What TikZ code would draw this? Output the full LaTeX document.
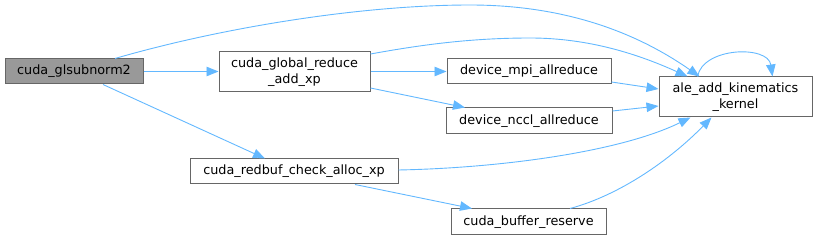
\documentclass[tikz,border=0pt]{standalone}
\usepackage{fontspec}
\setmainfont{DejaVu Sans}
\usetikzlibrary{calc,arrows.meta}
\definecolor{edgeblue}{HTML}{63B8FF}
\definecolor{boxgray}{HTML}{666666}
\definecolor{mainfill}{HTML}{999999}
\tikzset{
  fn/.style={draw=boxgray, line width=1pt, fill=white, inner sep=0pt, align=center,
    font=\fontsize{12.8}{16}\selectfont, text=black},
  mainfn/.style={fn, fill=mainfill},
  call/.style={draw=edgeblue, line width=0.9pt, -{Triangle[length=12pt,width=9.5pt]}},
}
\begin{document}
\begin{tikzpicture}[x=1pt,y=-1pt]
\useasboundingbox (0,0) rectangle (817,240);
\node[mainfn, minimum width=138pt, minimum height=25pt] (n0) at (74,71.5) {cuda\_glsubnorm2};
\node[fn, minimum width=151pt, minimum height=40pt] (n1) at (294.5,72) {cuda\_global\_reduce\\\_add\_xp};
\node[fn, minimum width=208pt, minimum height=25pt] (n2) at (294,171.5) {cuda\_redbuf\_check\_alloc\_xp};
\node[fn, minimum width=164pt, minimum height=25pt] (n3) at (529,71.5) {device\_mpi\_allreduce};
\node[fn, minimum width=166pt, minimum height=26pt] (n4) at (529,121) {device\_nccl\_allreduce};
\node[fn, minimum width=153pt, minimum height=40pt] (n5) at (735.5,97) {ale\_add\_kinematics\\\_kernel};
\node[fn, minimum width=155pt, minimum height=26pt] (n6) at (528.5,222) {cuda\_buffer\_reserve};

% glsubnorm2 -> ale
\draw[call] ($(n0.north)+(41,0)$) .. controls (220,28) and (360,5) .. (470,5)
  .. controls (580,5) and (650,42) .. ($(n5.north)+(-36,0)$);
% glsubnorm2 -> global
\draw[call] (n0.east) -- (n1.west |- n0.east);
% glsubnorm2 -> redbuf
\draw[call] ($(n0.south)+(29,0)$) -- ($(n2.north)+(-29,0)$);
% global -> ale
\draw[call] ($(n1.east)+(0,-18)$) .. controls (420,45) and (470,38) .. (530,38)
  .. controls (590,38) and (640,55) .. ($(n5.north)+(-48,0)$);
% global -> mpi
\draw[call] (n1.east |- n3.west) -- (n3.west);
% global -> nccl
\draw[call] ($(n1.east)+(0,16)$) -- ($(n4.north)+(-64,0)$);
% mpi -> ale
\draw[call] ($(n3.east)+(0,10.5)$) -- ($(n5.west)+(0,-8)$);
% nccl -> ale
\draw[call] ($(n4.east)+(0,-10)$) -- ($(n5.west)+(0,9)$);
% redbuf -> ale
\draw[call] ($(n2.east)+(0,-1.5)$) .. controls (500,168) and (620,152) .. ($(n5.south)+(-45,0)$);
% redbuf -> buffer
\draw[call] ($(n2.south)+(61,0)$) -- ($(n6.north)+(-56.5,0)$);
% buffer -> ale
\draw[call] ($(n6.north)+(41.5,0)$) .. controls (620,195) and (670,160) .. ($(n5.south)+(-24,0)$);
% ale self loop
\draw[call] ($(n5.north)+(-38,0)$) .. controls (703,47) and (768,45) .. ($(n5.north)+(37,0)$);
\end{tikzpicture}
\end{document}
